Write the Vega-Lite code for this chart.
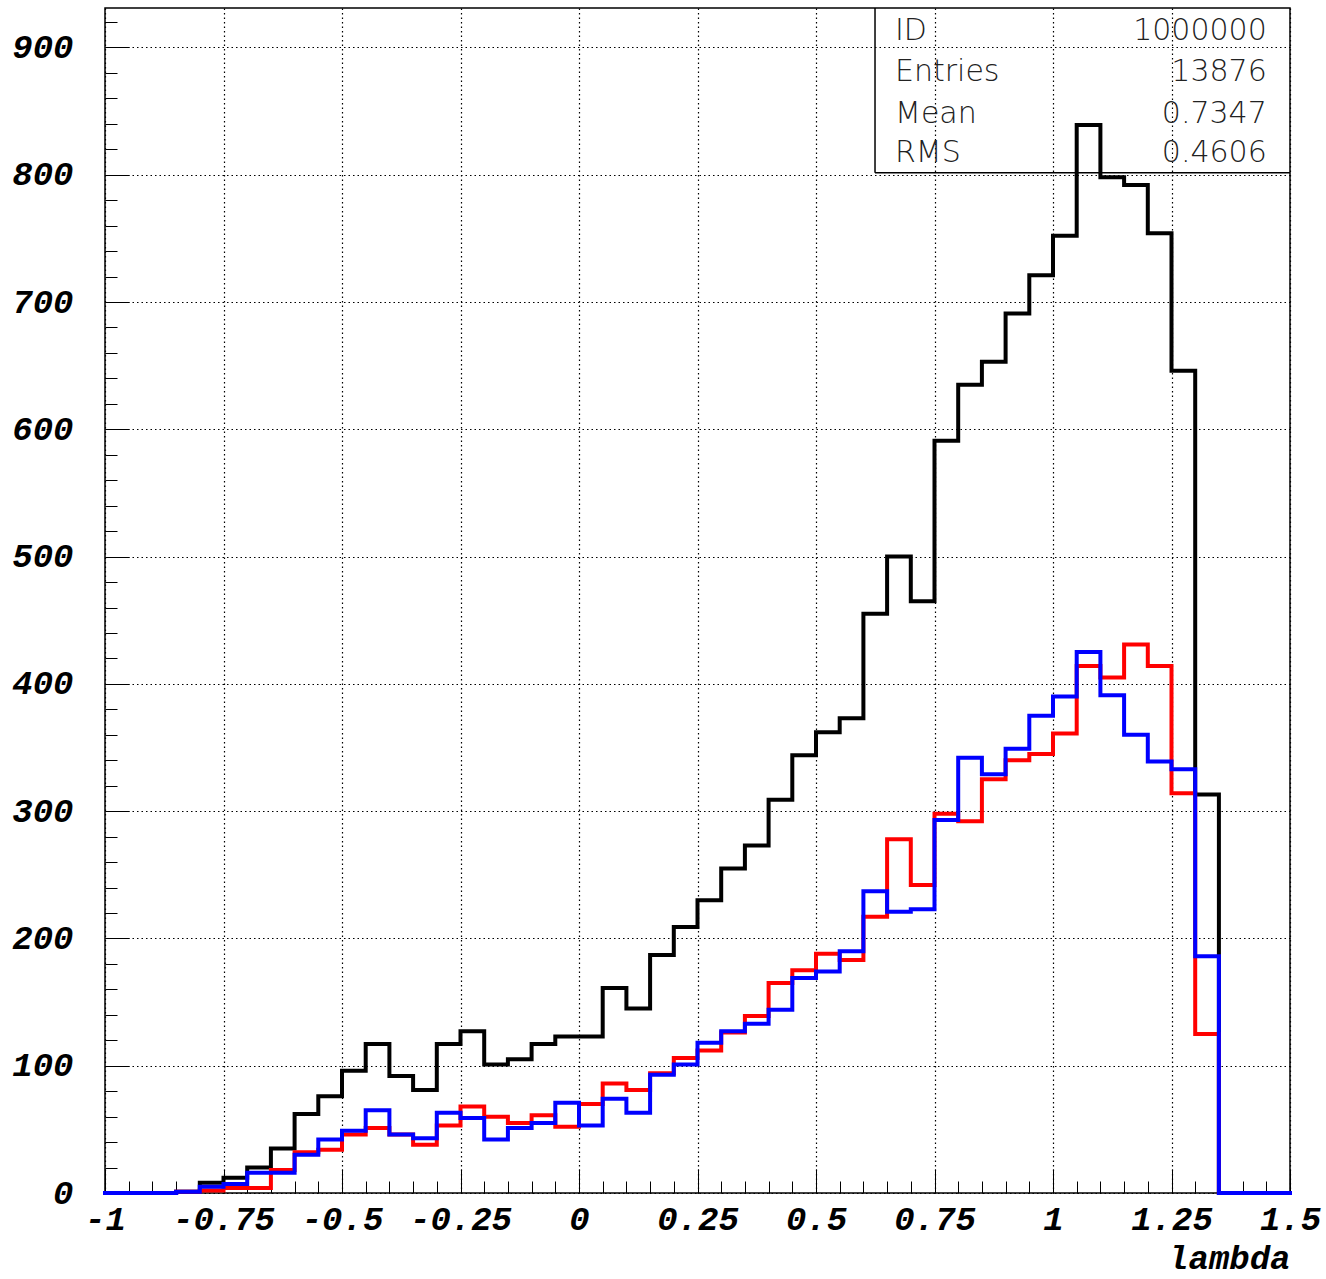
{
  "$schema": "https://vega.github.io/schema/vega-lite/v6.json",
  "width": 1185,
  "height": 1185,
  "autosize": {"type": "none"},
  "padding": {"left": 105, "top": 8, "right": 36, "bottom": 86},
  "background": "white",
  "config": {
    "view": {"stroke": "black", "strokeWidth": 1.5},
    "axis": {"domain": false, "tickColor": "black", "tickWidth": 1, "labelColor": "black", "titleColor": "black"}
  },
  "datasets": {
    "hist": [
      {"lo": -1, "hi": -0.95, "black": 0, "red": 0, "blue": 0},
      {"lo": -0.95, "hi": -0.9, "black": 0, "red": 0, "blue": 0},
      {"lo": -0.9, "hi": -0.85, "black": 0, "red": 0, "blue": 0},
      {"lo": -0.85, "hi": -0.8, "black": 1, "red": 1, "blue": 1},
      {"lo": -0.8, "hi": -0.75, "black": 8, "red": 2, "blue": 5},
      {"lo": -0.75, "hi": -0.7, "black": 12, "red": 4, "blue": 7},
      {"lo": -0.7, "hi": -0.65, "black": 20, "red": 4, "blue": 16},
      {"lo": -0.65, "hi": -0.6, "black": 35, "red": 18, "blue": 16},
      {"lo": -0.6, "hi": -0.55, "black": 62, "red": 32, "blue": 30},
      {"lo": -0.55, "hi": -0.5, "black": 76, "red": 34, "blue": 42},
      {"lo": -0.5, "hi": -0.45, "black": 96, "red": 46, "blue": 49},
      {"lo": -0.45, "hi": -0.4, "black": 117, "red": 51, "blue": 65},
      {"lo": -0.4, "hi": -0.35, "black": 92, "red": 46, "blue": 46},
      {"lo": -0.35, "hi": -0.3, "black": 81, "red": 38, "blue": 43},
      {"lo": -0.3, "hi": -0.25, "black": 117, "red": 53, "blue": 63},
      {"lo": -0.25, "hi": -0.2, "black": 127, "red": 68, "blue": 59},
      {"lo": -0.2, "hi": -0.15, "black": 101, "red": 60, "blue": 42},
      {"lo": -0.15, "hi": -0.1, "black": 105, "red": 55, "blue": 51},
      {"lo": -0.1, "hi": -0.05, "black": 117, "red": 61, "blue": 55},
      {"lo": -0.05, "hi": 0, "black": 123, "red": 52, "blue": 71},
      {"lo": 0, "hi": 0.05, "black": 123, "red": 70, "blue": 53},
      {"lo": 0.05, "hi": 0.1, "black": 161, "red": 86, "blue": 74},
      {"lo": 0.1, "hi": 0.15, "black": 145, "red": 81, "blue": 63},
      {"lo": 0.15, "hi": 0.2, "black": 187, "red": 94, "blue": 93},
      {"lo": 0.2, "hi": 0.25, "black": 209, "red": 106, "blue": 101},
      {"lo": 0.25, "hi": 0.3, "black": 230, "red": 112, "blue": 118},
      {"lo": 0.3, "hi": 0.35, "black": 255, "red": 126, "blue": 127},
      {"lo": 0.35, "hi": 0.4, "black": 273, "red": 139, "blue": 133},
      {"lo": 0.4, "hi": 0.45, "black": 309, "red": 165, "blue": 144},
      {"lo": 0.45, "hi": 0.5, "black": 344, "red": 175, "blue": 169},
      {"lo": 0.5, "hi": 0.55, "black": 362, "red": 188, "blue": 174},
      {"lo": 0.55, "hi": 0.6, "black": 373, "red": 183, "blue": 190},
      {"lo": 0.6, "hi": 0.65, "black": 455, "red": 217, "blue": 237},
      {"lo": 0.65, "hi": 0.7, "black": 500, "red": 278, "blue": 221},
      {"lo": 0.7, "hi": 0.75, "black": 465, "red": 242, "blue": 223},
      {"lo": 0.75, "hi": 0.8, "black": 591, "red": 298, "blue": 293},
      {"lo": 0.8, "hi": 0.85, "black": 635, "red": 292, "blue": 342},
      {"lo": 0.85, "hi": 0.9, "black": 653, "red": 325, "blue": 329},
      {"lo": 0.9, "hi": 0.95, "black": 691, "red": 340, "blue": 349},
      {"lo": 0.95, "hi": 1, "black": 721, "red": 345, "blue": 375},
      {"lo": 1, "hi": 1.05, "black": 752, "red": 361, "blue": 390},
      {"lo": 1.05, "hi": 1.1, "black": 839, "red": 414, "blue": 425},
      {"lo": 1.1, "hi": 1.15, "black": 798, "red": 405, "blue": 391},
      {"lo": 1.15, "hi": 1.2, "black": 792, "red": 431, "blue": 360},
      {"lo": 1.2, "hi": 1.25, "black": 754, "red": 414, "blue": 339},
      {"lo": 1.25, "hi": 1.3, "black": 646, "red": 314, "blue": 333},
      {"lo": 1.3, "hi": 1.35, "black": 313, "red": 125, "blue": 186},
      {"lo": 1.35, "hi": 1.4, "black": 0, "red": 0, "blue": 0},
      {"lo": 1.4, "hi": 1.45, "black": 0, "red": 0, "blue": 0},
      {"lo": 1.45, "hi": 1.5, "black": 0, "red": 0, "blue": 0}
    ],
    "stats": [
      {"stat": "ID", "value": "1000000"},
      {"stat": "Entries", "value": "13876"},
      {"stat": "Mean", "value": "0.7347"},
      {"stat": "RMS", "value": "0.4606"}
    ]
  },
  "resolve": {"axis": {"x": "independent", "y": "independent"}},
  "layer": [
    {
      "data": {"name": "hist"},
      "transform": [{"fold": ["lo", "hi"], "as": ["side", "edge"]}],
      "mark": {"type": "line", "color": "black", "strokeWidth": 4, "strokeJoin": "miter", "strokeCap": "square"},
      "encoding": {
        "x": {
          "field": "edge", "type": "quantitative",
          "scale": {"domain": [-1, 1.5], "nice": false, "zero": false},
          "axis": {
            "orient": "bottom",
            "values": [-1, -0.75, -0.5, -0.25, 0, 0.25, 0.5, 0.75, 1, 1.25, 1.5],
            "labelExpr": "'' + datum.value",
            "ticks": false, "grid": true, "gridColor": "black", "gridDash": [1.5, 3], "gridWidth": 1.2, "gridOpacity": 1,
            "labelFont": "Liberation Mono", "labelFontSize": 34, "labelFontWeight": "bold", "labelFontStyle": "italic",
            "labelPadding": 9, "labelFlush": false, "labelOverlap": false, "labelBound": false,
            "title": "lambda", "titleAnchor": "end", "titleFont": "Liberation Mono", "titleFontSize": 34,
            "titleFontWeight": "bold", "titleFontStyle": "italic", "titlePadding": 5
          }
        },
        "y": {
          "field": "black", "type": "quantitative",
          "scale": {"domain": [0, 931], "nice": false},
          "axis": {
            "orient": "left",
            "values": [0, 100, 200, 300, 400, 500, 600, 700, 800, 900],
            "ticks": false, "grid": true, "gridColor": "black", "gridDash": [1.5, 3], "gridWidth": 1.2, "gridOpacity": 1,
            "labelFont": "Liberation Mono", "labelFontSize": 34, "labelFontWeight": "bold", "labelFontStyle": "italic",
            "labelPadding": 32, "labelFlush": false, "labelOverlap": false, "labelBound": false,
            "title": null
          }
        },
        "order": [{"field": "edge", "type": "quantitative"}, {"field": "side", "type": "nominal"}]
      }
    },
    {
      "data": {"name": "hist"},
      "transform": [{"fold": ["lo", "hi"], "as": ["side", "edge"]}],
      "mark": {"type": "line", "color": "#ff0000", "strokeWidth": 4, "strokeJoin": "miter", "strokeCap": "square"},
      "encoding": {
        "x": {
          "field": "edge", "type": "quantitative",
          "scale": {"domain": [-1, 1.5], "nice": false, "zero": false},
          "axis": {
            "orient": "bottom",
            "values": [-1, -0.95, -0.9, -0.85, -0.8, -0.75, -0.7, -0.65, -0.6, -0.55, -0.5, -0.45, -0.4, -0.35, -0.3, -0.25, -0.2, -0.15, -0.1, -0.05, 0, 0.05, 0.1, 0.15, 0.2, 0.25, 0.3, 0.35, 0.4, 0.45, 0.5, 0.55, 0.6, 0.65, 0.7, 0.75, 0.8, 0.85, 0.9, 0.95, 1, 1.05, 1.1, 1.15, 1.2, 1.25, 1.3, 1.35, 1.4, 1.45, 1.5],
            "labels": false, "grid": false, "ticks": true,
            "tickSize": {"condition": {"test": "abs(datum.value * 4 - round(datum.value * 4)) < 0.001", "value": -24}, "value": -12},
            "title": null
          }
        },
        "y": {
          "field": "red", "type": "quantitative",
          "scale": {"domain": [0, 931], "nice": false},
          "axis": {
            "orient": "left",
            "values": [0, 20, 40, 60, 80, 100, 120, 140, 160, 180, 200, 220, 240, 260, 280, 300, 320, 340, 360, 380, 400, 420, 440, 460, 480, 500, 520, 540, 560, 580, 600, 620, 640, 660, 680, 700, 720, 740, 760, 780, 800, 820, 840, 860, 880, 900, 920],
            "labels": false, "grid": false, "ticks": true,
            "tickSize": {"condition": {"test": "datum.value % 100 === 0", "value": -24}, "value": -12},
            "title": null
          }
        },
        "order": [{"field": "edge", "type": "quantitative"}, {"field": "side", "type": "nominal"}]
      }
    },
    {
      "data": {"name": "hist"},
      "transform": [{"fold": ["lo", "hi"], "as": ["side", "edge"]}],
      "mark": {"type": "line", "color": "#0000ff", "strokeWidth": 4, "strokeJoin": "miter", "strokeCap": "square"},
      "encoding": {
        "x": {"field": "edge", "type": "quantitative", "scale": {"domain": [-1, 1.5], "nice": false, "zero": false}, "axis": null},
        "y": {"field": "blue", "type": "quantitative", "scale": {"domain": [0, 931], "nice": false}, "axis": null},
        "order": [{"field": "edge", "type": "quantitative"}, {"field": "side", "type": "nominal"}]
      }
    },
    {
      "data": {"name": "stats"},
      "transform": [{"filter": "datum.stat === 'ID'"}],
      "mark": {"type": "rule", "color": "black", "strokeWidth": 1.5},
      "encoding": {
        "x": {"datum": 0.6245, "type": "quantitative", "axis": null},
        "y": {"datum": 801.6, "type": "quantitative", "axis": null},
        "y2": {"datum": 931}
      }
    },
    {
      "data": {"name": "stats"},
      "transform": [{"filter": "datum.stat === 'ID'"}],
      "mark": {"type": "rule", "color": "black", "strokeWidth": 1.5},
      "encoding": {
        "x": {"datum": 0.6245, "type": "quantitative", "axis": null},
        "x2": {"datum": 1.5},
        "y": {"datum": 801.6, "type": "quantitative", "axis": null}
      }
    },
    {
      "data": {"name": "stats"},
      "transform": [{"filter": "datum.stat === 'ID'"}],
      "mark": {"type": "text", "align": "left", "baseline": "alphabetic", "font": "DejaVu Sans", "fontSize": 30, "fontWeight": 200, "color": "#222"},
      "encoding": {"x": {"datum": 0.6667, "type": "quantitative", "axis": null}, "y": {"datum": 906, "type": "quantitative", "axis": null}, "text": {"field": "stat"}}
    },
    {
      "data": {"name": "stats"},
      "transform": [{"filter": "datum.stat === 'ID'"}],
      "mark": {"type": "text", "align": "right", "baseline": "alphabetic", "font": "DejaVu Sans", "fontSize": 30, "fontWeight": 200, "color": "#222"},
      "encoding": {"x": {"datum": 1.451, "type": "quantitative", "axis": null}, "y": {"datum": 906, "type": "quantitative", "axis": null}, "text": {"field": "value"}}
    },
    {
      "data": {"name": "stats"},
      "transform": [{"filter": "datum.stat === 'Entries'"}],
      "mark": {"type": "text", "align": "left", "baseline": "alphabetic", "font": "DejaVu Sans", "fontSize": 30, "fontWeight": 200, "color": "#222"},
      "encoding": {"x": {"datum": 0.6667, "type": "quantitative", "axis": null}, "y": {"datum": 874, "type": "quantitative", "axis": null}, "text": {"field": "stat"}}
    },
    {
      "data": {"name": "stats"},
      "transform": [{"filter": "datum.stat === 'Entries'"}],
      "mark": {"type": "text", "align": "right", "baseline": "alphabetic", "font": "DejaVu Sans", "fontSize": 30, "fontWeight": 200, "color": "#222"},
      "encoding": {"x": {"datum": 1.451, "type": "quantitative", "axis": null}, "y": {"datum": 874, "type": "quantitative", "axis": null}, "text": {"field": "value"}}
    },
    {
      "data": {"name": "stats"},
      "transform": [{"filter": "datum.stat === 'Mean'"}],
      "mark": {"type": "text", "align": "left", "baseline": "alphabetic", "font": "DejaVu Sans", "fontSize": 30, "fontWeight": 200, "color": "#222"},
      "encoding": {"x": {"datum": 0.6667, "type": "quantitative", "axis": null}, "y": {"datum": 841, "type": "quantitative", "axis": null}, "text": {"field": "stat"}}
    },
    {
      "data": {"name": "stats"},
      "transform": [{"filter": "datum.stat === 'Mean'"}],
      "mark": {"type": "text", "align": "right", "baseline": "alphabetic", "font": "DejaVu Sans", "fontSize": 30, "fontWeight": 200, "color": "#222"},
      "encoding": {"x": {"datum": 1.451, "type": "quantitative", "axis": null}, "y": {"datum": 841, "type": "quantitative", "axis": null}, "text": {"field": "value"}}
    },
    {
      "data": {"name": "stats"},
      "transform": [{"filter": "datum.stat === 'RMS'"}],
      "mark": {"type": "text", "align": "left", "baseline": "alphabetic", "font": "DejaVu Sans", "fontSize": 30, "fontWeight": 200, "color": "#222"},
      "encoding": {"x": {"datum": 0.6667, "type": "quantitative", "axis": null}, "y": {"datum": 810, "type": "quantitative", "axis": null}, "text": {"field": "stat"}}
    },
    {
      "data": {"name": "stats"},
      "transform": [{"filter": "datum.stat === 'RMS'"}],
      "mark": {"type": "text", "align": "right", "baseline": "alphabetic", "font": "DejaVu Sans", "fontSize": 30, "fontWeight": 200, "color": "#222"},
      "encoding": {"x": {"datum": 1.451, "type": "quantitative", "axis": null}, "y": {"datum": 810, "type": "quantitative", "axis": null}, "text": {"field": "value"}}
    }
  ]
}
